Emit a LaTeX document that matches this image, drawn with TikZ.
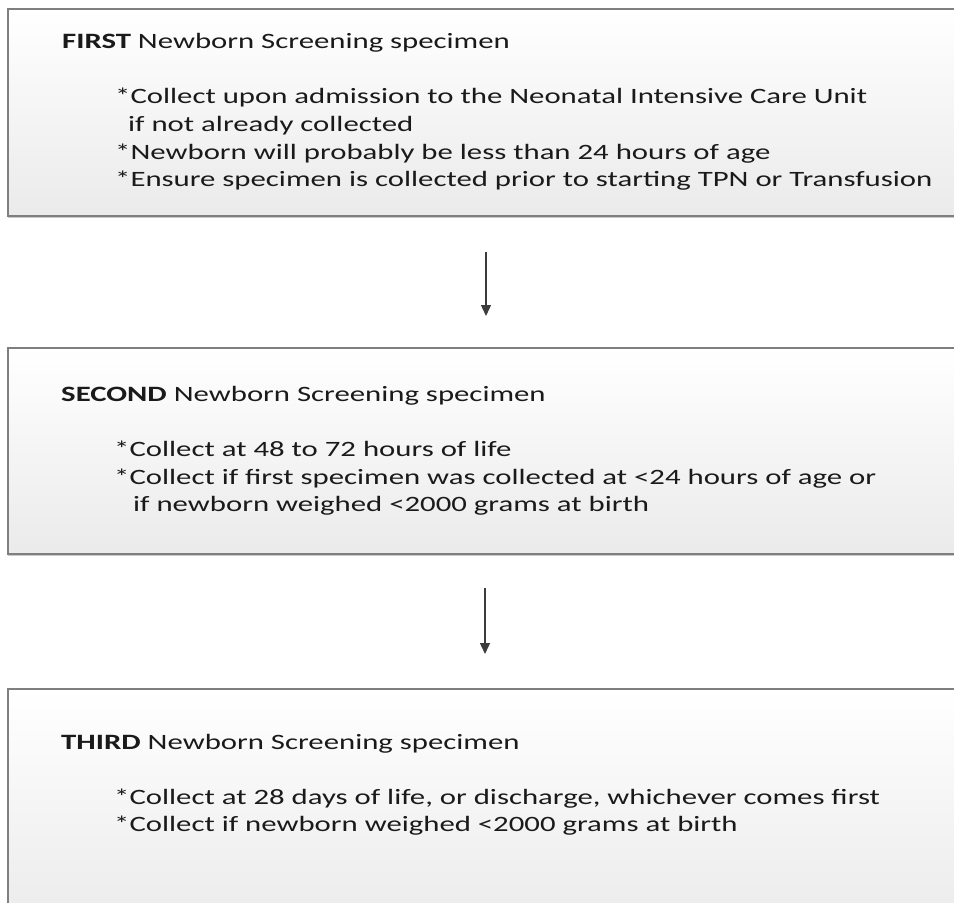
\documentclass[tikz,border=0pt]{standalone}
\usepackage{fontspec}
\setmainfont{Carlito}[FakeStretch=1.405]
\usetikzlibrary{arrows.meta,shadows}
\definecolor{bordergray}{HTML}{7F7F7F}
\definecolor{txtgray}{HTML}{1A1A1A}
\definecolor{arrowgray}{HTML}{3C3C3C}
\begin{document}
\begin{tikzpicture}[x=1pt,y=-1pt,
  box/.style={draw=bordergray, line width=1.6pt, top color=white, bottom color=black!8,
    rectangle, inner sep=0pt, anchor=north west, minimum width=990pt,
    drop shadow={shadow xshift=0.5pt, shadow yshift=-2pt, opacity=0.35, fill=black!60}},
  line/.style={anchor=base west, inner sep=0pt, text=txtgray, font=\fontsize{21.9}{27.6}\selectfont},
  flow/.style={draw=arrowgray, line width=1.3pt, -{Triangle[width=10pt,length=11pt]}}]
\useasboundingbox (0,0) rectangle (954,903);
\clip (0,0) rectangle (954,903);
% boxes
\node[box, minimum height=207pt] (b1) at (7,8) {};
\node[box, minimum height=206pt] (b2) at (7,347) {};
\node[box, minimum height=240pt] (b3) at (7,688) {};
% box 1 text
\node[line] (t1) at (62,48.3) {\textbf{FIRST} Newborn Screening specimen};
\node[line] (t1a) at (115,103.3) {*Collect upon admission to the Neonatal Intensive Care Unit};
\node[line] (t1b) at (128,131.2) {if not already collected};
\node[line] (t1c) at (115,159) {*Newborn will probably be less than 24 hours of age};
\node[line] (t1d) at (115,186.7) {*Ensure specimen is collected prior to starting TPN or Transfusion};
% box 2 text
\node[line] (t2) at (61,401.7) {\textbf{SECOND} Newborn Screening specimen};
\node[line] (t2a) at (114,456) {*Collect at 48 to 72 hours of life};
\node[line] (t2b) at (114,484) {*Collect if first specimen was collected at <24 hours of age or};
\node[line] (t2c) at (133,511.7) {if newborn weighed <2000 grams at birth};
% box 3 text
\node[line] (t3) at (61,749.3) {\textbf{THIRD} Newborn Screening specimen};
\node[line] (t3a) at (114,804.3) {*Collect at 28 days of life, or discharge, whichever comes first};
\node[line] (t3b) at (114,831) {*Collect if newborn weighed <2000 grams at birth};
% arrows
\coordinate (a1s) at (486,252);
\coordinate (a1e) at (486,316);
\coordinate (a2s) at (485,588);
\coordinate (a2e) at (485,654);
\draw[flow] (a1s) -- (a1e);
\draw[flow] (a2s) -- (a2e);
\end{tikzpicture}
\end{document}
